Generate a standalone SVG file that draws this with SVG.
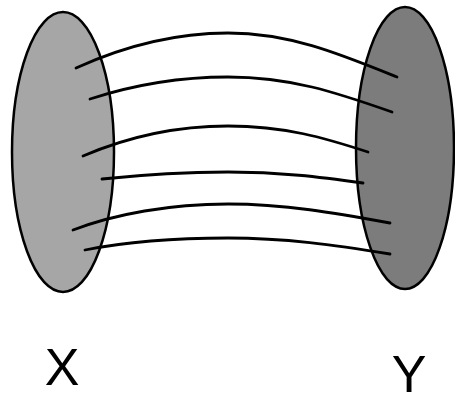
<svg xmlns="http://www.w3.org/2000/svg" width="455" height="394" viewBox="0 0 455 394">
<style>
.set{stroke:#000;stroke-width:2.5}
.lnk{fill:none;stroke:#000;stroke-width:2.8;stroke-linecap:round}
.lbl{font-family:"Liberation Sans",Arial,sans-serif;font-size:52px;fill:#000}
</style>
<rect width="455" height="394" fill="#fff"/>
<g id="setX">
<ellipse class="set" cx="63" cy="152" rx="51" ry="140" fill="#a6a6a6"/>
<text class="lbl" x="62" y="385" text-anchor="middle">X</text>
</g>
<g id="setY">
<ellipse class="set" cx="405" cy="148" rx="49" ry="141" fill="#7c7c7c"/>
<text class="lbl" x="409" y="392" text-anchor="middle">Y</text>
</g>
<g id="connectors">
<path class="lnk" d="M76,68 C120,48 170,33 228,33 C290,33 340,54 397,77"/>
<path class="lnk" d="M90,99 C130,86 175,77 228,77 C290,77 335,92 392,112"/>
<path class="lnk" d="M83,156 C125,138 175,126 228,126 C285,126 325,138 368,152"/>
<path class="lnk" d="M102,179 C140,175 180,172 228,172 C280,172 320,177 363,183"/>
<path class="lnk" d="M73,230 C115,214 170,204 228,204 C285,204 335,213 390,223"/>
<path class="lnk" d="M85,250 C125,242 175,238 228,238 C285,238 335,245 390,254"/>
</g>
</svg>
